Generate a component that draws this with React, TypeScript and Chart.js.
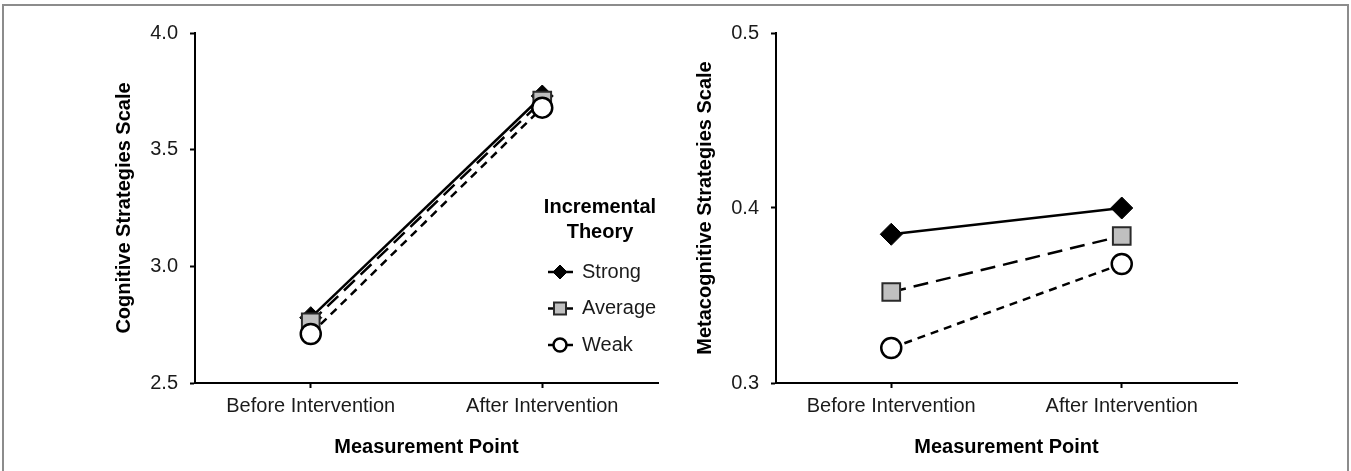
import React, { useEffect, useRef } from 'react';
import { Chart, registerables } from 'chart.js';
import { drawPoint } from 'chart.js/helpers';

Chart.register(...registerables);

// ---------- data ----------
const categories = ['Before Intervention', 'After Intervention'];
const seriesNames = ['Strong', 'Average', 'Weak'];

const cognitiveStrong = [2.78, 3.73];
const cognitiveAverage = [2.76, 3.71];
const cognitiveWeak = [2.71, 3.68];

const metaStrong = [0.385, 0.4];
const metaAverage = [0.352, 0.384];
const metaWeak = [0.32, 0.368];

const cognitiveTicks = [2.5, 3.0, 3.5, 4.0];
const metaTicks = [0.3, 0.4, 0.5];

const xTitle = 'Measurement Point';
const cognitiveTitle = 'Cognitive Strategies Scale';
const metaTitle = 'Metacognitive Strategies Scale';
const legendTitle = ['Incremental', 'Theory'];

// ---------- styles ----------
const FONT = '"Liberation Sans", Arial, Helvetica, sans-serif';
const seriesStyles = [
  { pointStyle: 'rectRot', radius: 11, bg: '#000000', border: '#000000', bw: 1, dash: [] as number[], legendRadius: 7 },
  { pointStyle: 'rect', radius: 12.5, bg: '#c0c0c0', border: '#2a2a2a', bw: 2, dash: [15, 8], legendRadius: 8.5 },
  { pointStyle: 'circle', radius: 10, bg: '#ffffff', border: '#000000', bw: 2.5, dash: [8, 6], legendRadius: 6.5 },
];

const legendPlugin = {
  id: 'theoryLegend',
  afterDraw(chart: any, _args: any, opts: any) {
    if (!opts || !opts.show) return;
    const ctx = chart.ctx as CanvasRenderingContext2D;
    ctx.save();
    ctx.fillStyle = '#000';
    ctx.font = `bold 20px ${FONT}`;
    ctx.textAlign = 'center';
    ctx.textBaseline = 'middle';
    legendTitle.forEach((t, i) => ctx.fillText(t, opts.titleX, opts.titleY + i * 25));
    chart.data.datasets.forEach((ds: any, i: number) => {
      const y = opts.itemY + i * opts.itemGap;
      ctx.setLineDash([]);
      ctx.strokeStyle = '#000';
      ctx.lineWidth = 2.5;
      ctx.beginPath();
      ctx.moveTo(opts.symX - 12, y);
      ctx.lineTo(opts.symX + 13, y);
      ctx.stroke();
      ctx.fillStyle = ds.pointBackgroundColor;
      ctx.strokeStyle = ds.pointBorderColor;
      ctx.lineWidth = ds.pointBorderWidth;
      drawPoint(ctx, { pointStyle: ds.pointStyle, radius: seriesStyles[i].legendRadius, borderWidth: ds.pointBorderWidth, rotation: 0 } as any, opts.symX, y);
      ctx.fillStyle = '#1a1a1a';
      ctx.font = `20px ${FONT}`;
      ctx.textAlign = 'left';
      ctx.fillText(ds.label, opts.textX, y);
    });
    ctx.restore();
  },
};

function makeConfig(values: number[][], ticks: number[], yTitle: string, padding: any, legend: any) {
  const gridOpts = {
    display: true,
    drawOnChartArea: false,
    drawTicks: true,
    tickLength: 5,
    tickColor: '#000',
    tickWidth: 2,
    offset: false,
  };
  return {
    type: 'line' as const,
    data: {
      labels: categories,
      datasets: values.map((v, i) => ({
        label: seriesNames[i],
        data: v,
        borderColor: '#000',
        borderWidth: 2.5,
        borderDash: seriesStyles[i].dash,
        pointStyle: seriesStyles[i].pointStyle,
        pointRadius: seriesStyles[i].radius,
        pointHoverRadius: seriesStyles[i].radius,
        pointBackgroundColor: seriesStyles[i].bg,
        pointBorderColor: seriesStyles[i].border,
        pointBorderWidth: seriesStyles[i].bw,
        fill: false,
        tension: 0,
        order: 2 - i,
      })),
    },
    options: {
      animation: false as const,
      responsive: false,
      maintainAspectRatio: false,
      events: [] as any[],
      layout: { padding },
      plugins: {
        legend: { display: false },
        tooltip: { enabled: false },
        theoryLegend: legend,
      },
      scales: {
        x: {
          type: 'category' as const,
          offset: true,
          grid: gridOpts,
          border: { display: true, color: '#000', width: 2 },
          ticks: { font: { family: FONT, size: 20 }, color: '#1a1a1a', padding: 6, maxRotation: 0, autoSkip: false },
          title: { display: true, text: xTitle, color: '#000', font: { family: FONT, size: 20, weight: 'bold' }, padding: { top: 0, bottom: 12 } },
          afterFit: (s: any) => { s.height = 88; },
        },
        y: {
          min: ticks[0],
          max: ticks[ticks.length - 1],
          grid: gridOpts,
          border: { display: true, color: '#000', width: 2 },
          ticks: { font: { family: FONT, size: 20 }, color: '#1a1a1a', padding: 12, callback: (v: any) => Number(v).toFixed(1) },
          afterBuildTicks: (s: any) => { s.ticks = ticks.map((v) => ({ value: v })); },
          title: { display: true, text: yTitle, color: '#000', font: { family: FONT, size: 20, weight: 'bold' }, padding: 0 },
          afterFit: (s: any) => { s.width = 83; },
        },
      },
    },
    plugins: [legendPlugin],
  };
}

function ChartCanvas({ config, left, width }: { config: any; left: number; width: number }) {
  const ref = useRef<HTMLCanvasElement | null>(null);
  useEffect(() => {
    if (!ref.current) return;
    const chart = new Chart(ref.current, config);
    return () => chart.destroy();
  }, [config]);
  return (
    <canvas
      ref={ref}
      width={width}
      height={471}
      style={{ position: 'absolute', left, top: 0, width, height: 471 }}
    />
  );
}

const leftConfig = makeConfig(
  [cognitiveStrong, cognitiveAverage, cognitiveWeak],
  cognitiveTicks,
  cognitiveTitle,
  { left: 112, right: 22, top: 33, bottom: 0 },
  { show: true, titleX: 600, titleY: 207, symX: 560, textX: 582, itemY: 272, itemGap: 36.5 }
);

const rightConfig = makeConfig(
  [metaStrong, metaAverage, metaWeak],
  metaTicks,
  metaTitle,
  { left: 13, right: 114, top: 33, bottom: 0 },
  { show: false }
);

export default function App() {
  useEffect(() => {
    Chart.defaults.font.family = FONT;
  }, []);
  return (
    <div style={{ position: 'fixed', left: 0, top: 0, width: 1351, height: 471, background: '#fff', overflow: 'hidden' }}>
      <div
        style={{
          position: 'absolute',
          left: 2,
          top: 4,
          width: 1343,
          height: 500,
          borderTop: '2px solid #8c8c8c',
          borderLeft: '2px solid #8c8c8c',
          borderRight: '2px solid #8c8c8c',
        }}
      />
      <ChartCanvas config={leftConfig} left={0} width={680} />
      <ChartCanvas config={rightConfig} left={680} width={671} />
    </div>
  );
}
